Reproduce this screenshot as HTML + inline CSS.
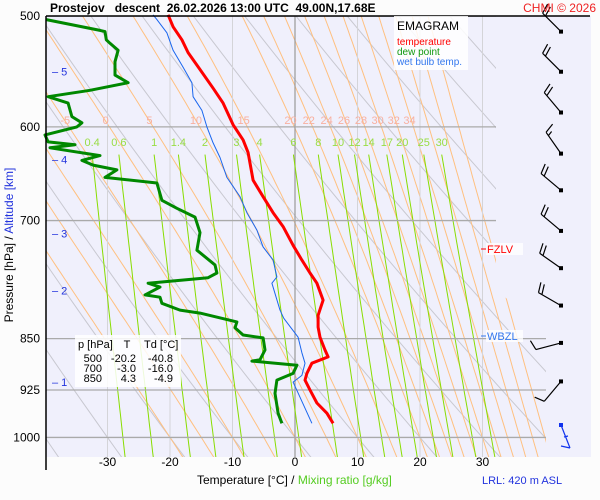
<!DOCTYPE html>
<html><head><meta charset="utf-8"><style>
html,body{margin:0;padding:0;background:#fff;}
svg{display:block;font-family:"Liberation Sans",Arial,sans-serif;}
</style></head><body>
<svg id="chart" width="600" height="500" viewBox="0 0 600 500" xmlns="http://www.w3.org/2000/svg">
<defs><clipPath id="plotclip"><polygon points="46,16 496,16 496,290 546,330 546,457 46,457"/></clipPath></defs>
<rect x="0" y="0" width="600" height="500" fill="#fcfcfc"/>
<rect x="46" y="16" width="545" height="441" fill="#f0f0fc"/>
<g id="grid" clip-path="url(#plotclip)"></g>
<g id="profiles"></g>
<g id="winds"></g>
<g id="labels"></g>
<line x1="46" y1="16" x2="590" y2="16" stroke="#000" stroke-width="1.5"/>
<line x1="46" y1="16" x2="46" y2="470" stroke="#000" stroke-width="1.5"/>
<text x="50" y="12" font-size="12" font-weight="bold" xml:space="preserve">Prostejov   descent  26.02.2026 13:00 UTC  49.00N,17.68E</text>
<text x="596" y="12" font-size="12" fill="#ee2222" text-anchor="end">CHMI © 2026</text>
<rect x="394" y="16" width="74" height="54" fill="#fff" opacity="0.85"/>
<text x="397" y="30" font-size="12">EMAGRAM</text>
<text x="397" y="45" font-size="10" fill="#ff0000">temperature</text>
<text x="397" y="55" font-size="10" fill="#119911">dew point</text>
<text x="397" y="65" font-size="10" fill="#3377ee">wet bulb temp.</text>
<rect x="75" y="335" width="106" height="52" fill="#fff" opacity="0.85"/>
<g font-size="11">
<text x="78" y="348">p [hPa]</text><text x="127" y="348" text-anchor="middle">T</text><text x="144" y="348">Td [°C]</text>
<text x="102" y="362" text-anchor="end">500</text><text x="136" y="362" text-anchor="end">-20.2</text><text x="173" y="362" text-anchor="end">-40.8</text>
<text x="102" y="372" text-anchor="end">700</text><text x="136" y="372" text-anchor="end">-3.0</text><text x="173" y="372" text-anchor="end">-16.0</text>
<text x="102" y="382" text-anchor="end">850</text><text x="136" y="382" text-anchor="end">4.3</text><text x="173" y="382" text-anchor="end">-4.9</text>
</g>
<line x1="481" y1="249" x2="486" y2="249" stroke="#ff0000"/>
<rect x="486" y="243" width="37" height="12" fill="#fff" opacity="0.8"/>
<text x="487" y="253" font-size="11" fill="#ff0000">FZLV</text>
<line x1="481" y1="336" x2="486" y2="336" stroke="#3377ee"/>
<rect x="486" y="330" width="37" height="12" fill="#fff" opacity="0.8"/>
<text x="487" y="340" font-size="11" fill="#3377ee">WBZL</text>
<text x="482" y="484" font-size="11" fill="#2233dd">LRL: 420 m ASL</text>
<text x="197" y="484" font-size="12">Temperature [°C]  /  <tspan fill="#55cc22">Mixing ratio [g/kg]</tspan></text>
<text transform="translate(13,245) rotate(-90)" font-size="12" text-anchor="middle">Pressure [hPa]  /  <tspan fill="#2233dd">Altitude [km]</tspan></text>
</svg>
<script>
// ---- data ----
const isobars = [500, 600, 700, 850, 925, 1000];
const isotherms = [-30, -20, -10, 0, 10, 20, 30];
const mixRatios = [0.4, 0.6, 1, 1.4, 2, 3, 4, 6, 8, 10, 12, 14, 17, 20, 25, 30];
const moistThetaW = [-20, -15, -10, -5, 0, 5, 10, 15, 20, 22, 24, 26, 28, 30, 32, 34, 36, 38, 40];
const moistLabels = [-5, 0, 5, 10, 15, 20, 22, 24, 26, 28, 30, 32, 34];
const dryTheta = [-60, -50, -40, -30, -20, -10, 0, 10, 20, 30, 40, 50, 60, 70, 80, 90, 100, 110, 120];
const altKm = [5, 4, 3, 2, 1];
const altP = [548, 633, 715, 785, 913];
const tempP = [499,509,520,531,546,563,577,598,613,626,655,673,691,707,729,747,763,776,798,818,834,848,866,876,885,900,910,925,945,961,977];
const tempT = [-20.3,-19.5,-18.1,-17.1,-15.2,-13.1,-11.5,-9.9,-8.3,-7.5,-6.7,-5.1,-3.5,-1.9,-0.3,1.1,2.4,3.5,4.5,3.7,3.7,4.0,4.8,5.3,2.7,1.9,1.6,2.4,3.5,5.1,6.1];
const dewP = [503,512,513,520,523,529,539,551,558,565,571,577,590,596,600,608,615,618,621,629,634,639,644,652,658,677,686,696,714,735,753,763,769,776,781,791,794,802,811,815,827,835,845,849,866,880,882,888,900,910,930,961,977];
const dewT = [-39.8,-31.2,-30.4,-30.2,-29.6,-28.3,-28.8,-28.8,-26.7,-32.8,-39.5,-36.3,-35.7,-34.1,-34.9,-40,-39.5,-35.2,-39.2,-31.2,-34.1,-32.3,-28.5,-30.4,-22.1,-21.3,-18.9,-16,-15.2,-15.7,-12.8,-12.5,-13.9,-23.5,-21.6,-24,-21.6,-21.3,-18.4,-15.2,-9.3,-9.6,-8.3,-5.1,-4.8,-5.6,-6.9,0.3,-0.3,-2.9,-3.2,-2.7,-2.1];
const wetP = [499,503,514,529,544,558,571,584,600,616,631,652,673,691,711,731,747,768,776,811,822,848,870,885,903,913,936,977];
const wetT = [-22.7,-22.1,-20.5,-19.5,-17.9,-16.5,-16.3,-14.9,-14.1,-13.1,-12,-10.9,-8.8,-7.7,-6.1,-5.1,-3.5,-2.9,-3.7,-2.4,-1.8,0.5,1.1,1.6,1.1,-0.3,0.8,2.7];
const windP = [513, 548, 586, 627, 666, 712, 757, 805, 856, 912];
const windDir = [315, 315, 320, 325, 310, 310, 305, 300, 255, 220];
const windSpd = [20, 20, 20, 15, 20, 20, 20, 20, 10, 10];

// ---- scales ----
const X = t => 295 + 6.25 * t;
const Y = p => 16 + 608 * Math.log(p / 500);
const NS = 'http://www.w3.org/2000/svg';
function mk(tag, attrs, parent) { const e = document.createElementNS(NS, tag); for (const k in attrs) e.setAttribute(k, attrs[k]); parent.appendChild(e); return e; }
const grid = document.getElementById('grid');
const prof = document.getElementById('profiles');
const winds = document.getElementById('winds');
const labels = document.getElementById('labels');
const es = tc => 6.112 * Math.exp(17.67 * tc / (tc + 243.5));
function pathFrom(pts) { return pts.map((q, i) => (i ? 'L' : 'M') + q[0].toFixed(1) + ',' + q[1].toFixed(1)).join(''); }

// dry adiabats
dryTheta.forEach(th => {
  const pts = [];
  for (let p = 480; p <= 1060; p += 20) pts.push([X((th + 273.15) * Math.pow(p / 1000, 0.2857) - 273.15), Y(p)]);
  const el = mk('path', {d: pathFrom(pts), fill: 'none', stroke: '#c8c8d0', 'stroke-width': 1}, grid);
  
  
});
// moist adiabats
function moistProfile(thw) {
  const out = {};
  const step = 0.002;
  function integ(dir) {
    let T = thw + 273.15, lp = Math.log(1000);
    const res = [[1000, T - 273.15]];
    for (let i = 0; i < 400; i++) {
      const p = Math.exp(lp);
      const e = es(T - 273.15); const rs = 0.622 * e / (p - e);
      const g = (287 * T + 2.5e6 * rs) / (1005 + 2.5e6 * 2.5e6 * rs * 0.622 / (287 * T * T));
      T += g * step * dir; lp += step * dir;
      const pn = Math.exp(lp);
      if (pn < 480 || pn > 1060) break;
      if (i % 5 === 4) res.push([pn, T - 273.15]);
    }
    return res;
  }
  return integ(-1).reverse().concat(integ(1));
}
const moistCurves = {};
moistThetaW.forEach(th => {
  const prof2 = moistProfile(th);
  moistCurves[th] = prof2;
  const el = mk('path', {d: pathFrom(prof2.map(q => [X(q[1]), Y(q[0])])), fill: 'none', stroke: '#ffc080', 'stroke-width': 1}, grid);
  
  
});
// isotherms
isotherms.forEach(t => {
  const el = mk('line', {x1: X(t), y1: 16, x2: X(t), y2: 457, stroke: t === 0 ? '#999' : '#d4d4d8', 'stroke-width': t === 0 ? 1.2 : 1}, grid);
  
  
});
// mixing ratio lines
mixRatios.forEach(w => {
  const pts = [];
  for (let p = 628; p <= 1060; p += 12) {
    const e = w * p / (622 + w); const l = Math.log(e / 6.112);
    pts.push([X(243.5 * l / (17.67 - l)), Y(p)]);
  }
  const el = mk('path', {d: pathFrom(pts), fill: 'none', stroke: '#88dd00', 'stroke-width': 1}, grid);
  
  
  const t = mk('text', {x: pts[0][0], y: 146, 'font-size': 11, fill: '#99dd44', 'text-anchor': 'middle'}, grid);
  t.textContent = String(w);
  
  
});
// isobars
isobars.forEach(p => {
  const el = mk('line', {x1: 46, y1: Y(p), x2: p >= 800 ? 546 : 496, y2: Y(p), stroke: '#aaaaaa', 'stroke-width': 1.3}, grid);
  
  
  const t = mk('text', {x: 40, y: Y(p) + 4, 'font-size': 12, 'text-anchor': 'end'}, labels);
  t.textContent = String(p);
  
  
});
// moist adiabat labels
moistLabels.forEach(th => {
  const c = moistCurves[th];
  let best = c[0];
  c.forEach(q => { if (Math.abs(q[0] - 600) < Math.abs(best[0] - 600)) best = q; });
  const t = mk('text', {x: X(best[1]) - 4, y: 124, 'font-size': 11, fill: '#f8b0a0', 'text-anchor': 'middle'}, grid);
  t.textContent = String(th);
  
  
});
// temperature tick labels
isotherms.forEach(t0 => {
  const t = mk('text', {x: X(t0), y: 466, 'font-size': 12, 'text-anchor': 'middle'}, labels);
  t.textContent = String(t0);
  
  
});
// altitude labels
altKm.forEach((k, i) => {
  const t = mk('text', {x: 52, y: Y(altP[i]) + 4, 'font-size': 11, fill: '#2233dd'}, labels);
  t.textContent = '– ' + k;
  
  
});
// profiles
function drawProfile(ps, ts, color, w, name) {
  const pts = ps.map((p, i) => [X(ts[i]), Y(p)]);
  const el = mk('path', {d: pathFrom(pts), fill: 'none', stroke: color, 'stroke-width': w, 'stroke-linejoin': 'round'}, prof);
  
  
}
drawProfile(wetP, wetT, '#1a66ee', 1, 'wet-bulb-line');
drawProfile(dewP, dewT, '#008800', 3, 'dew-point-line');
drawProfile(tempP, tempT, '#ff0000', 3, 'temperature-line');
// wind barbs
windP.forEach((p, i) => {
  const x0 = 561, y0 = Y(p);
  const d = windDir[i] * Math.PI / 180;
  const ux = Math.sin(d), uy = -Math.cos(d);
  const L = 26;
  const ex = x0 + ux * L, ey = y0 + uy * L;
  const px = -uy, py = ux;
  let dstr = 'M' + x0 + ',' + y0.toFixed(1) + 'L' + ex.toFixed(1) + ',' + ey.toFixed(1);
  let s = windSpd[i], pos = 0;
  while (s >= 10) {
    const bx = ex - ux * pos, by = ey - uy * pos;
    dstr += 'M' + bx.toFixed(1) + ',' + by.toFixed(1) + 'L' + (bx + px * 10 + ux * 3).toFixed(1) + ',' + (by + py * 10 + uy * 3).toFixed(1);
    s -= 10; pos += 4;
  }
  if (s >= 5) {
    const bx = ex - ux * pos, by = ey - uy * pos;
    dstr += 'M' + bx.toFixed(1) + ',' + by.toFixed(1) + 'L' + (bx + px * 5 + ux * 1.5).toFixed(1) + ',' + (by + py * 5 + uy * 1.5).toFixed(1);
  }
  const g = mk('path', {d: dstr, fill: 'none', stroke: '#000', 'stroke-width': 1.2}, winds);
  
  
  const dot = mk('rect', {x: x0 - 2, y: y0 - 2, width: 4, height: 4, fill: '#000'}, winds);
  
  
});
const sfc = mk('path', {d: 'M561,425L570,448M570,448L561,446M564,437L568,436', fill: 'none', stroke: '#1133ee', 'stroke-width': 1.2}, winds);


const sdot = mk('rect', {x: 559, y: 423, width: 4, height: 4, fill: '#1133ee'}, winds);


</script>
</body></html>
